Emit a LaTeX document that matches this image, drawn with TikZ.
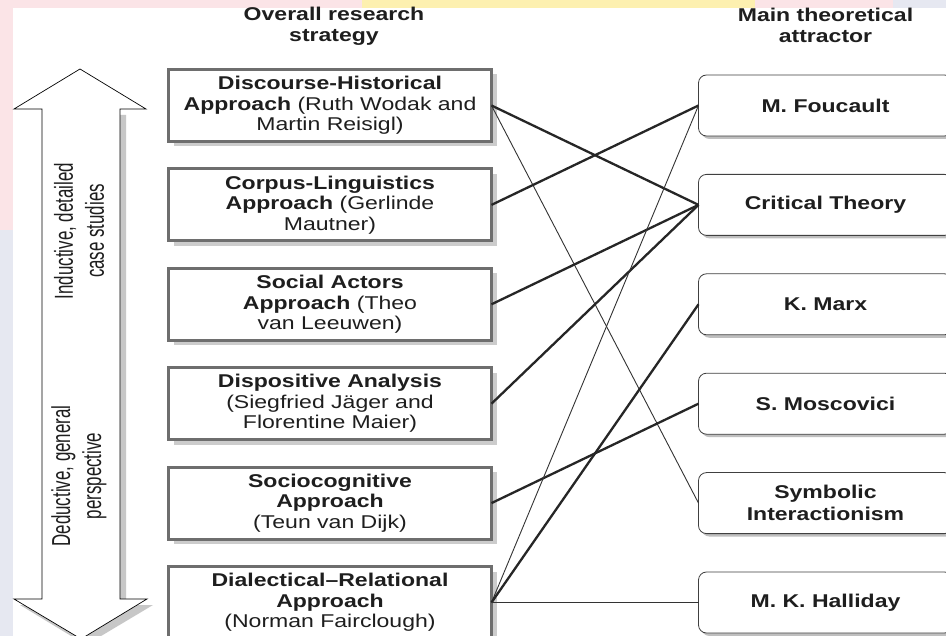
\documentclass[tikz,border=0pt]{standalone}
\usepackage{fontspec}
\newfontfamily\widefont[FakeStretch=1.245]{Liberation Sans}
\newfontfamily\tallfont[FakeStretch=0.65]{Liberation Sans}
\usetikzlibrary{positioning,shadows}
\definecolor{boxgray}{HTML}{6E6E6E}
\definecolor{inkgray}{HTML}{1E1E1E}
\definecolor{wmpink}{HTML}{FBE4E7}
\definecolor{wmyellow}{HTML}{FDF0B0}
\definecolor{wmblue}{HTML}{E6E8F1}

\begin{document}
\begin{tikzpicture}[
  x=1pt, y=1pt,
  node distance=27.4pt and 207pt,
  approach/.style={draw=boxgray, line width=3pt, fill=white, outer sep=0pt,
    minimum width=323pt, minimum height=72pt, align=center, inner sep=2pt,
    text=inkgray, font=\widefont\fontsize{18.5}{20.5}\selectfont,
    drop shadow={shadow xshift=5pt, shadow yshift=-5pt, fill=black!20, opacity=1}},
  attractor/.style={draw=black!75, line width=0.8pt, rounded corners=8pt, fill=white, outer sep=0pt,
    minimum width=254pt, minimum height=61pt, align=center, text=inkgray,
    font=\widefont\bfseries\fontsize{18.5}{22}\selectfont,
    drop shadow={shadow xshift=3pt, shadow yshift=-3pt, fill=black!25, opacity=1}},
  head/.style={align=center, text=inkgray, font=\widefont\bfseries\fontsize{18.5}{21}\selectfont},
  side/.style={rotate=90, align=center, text=inkgray, font=\tallfont\fontsize{26}{31}\selectfont},
  strong/.style={line width=2.3pt, black!85},
  weak/.style={line width=0.9pt, black!80}
]
\useasboundingbox (0,0) rectangle (946,-636);
\fill[white] (0,0) rectangle (946,-636);
% faint strips along the edges
\fill[wmpink] (0,0) rectangle (13,-230);
\fill[wmblue] (0,-230) rectangle (13,-636);
\fill[wmpink] (13,0) rectangle (893,-8);
\fill[wmyellow] (362,0) rectangle (755,-8);
\fill[wmblue] (893,0) rectangle (946,-8);

% double arrow on the left
\fill[black!22] (47,-115) -- (126,-115) -- (126,-605) -- (153,-605) -- (86,-645) -- (20,-605) -- (47,-605) -- cycle;
\draw[fill=white, line width=0.7pt] (42,-109) -- (14,-109) -- (80,-69) -- (146,-109) -- (120,-109)
  -- (120,-599) -- (147,-599) -- (81,-639) -- (14,-599) -- (42,-599) -- cycle;
\node[side] (inductive) at (79,-231) {Inductive, detailed\\case studies};
\node[side] (deductive) at (79,-476) {Deductive, general\\perspective};

% research strategies
\node[approach] (dha) at (330,-105.5) {\textbf{Discourse-Historical}\\\textbf{Approach} (Ruth Wodak and\\Martin Reisigl)};
\node[approach, below=of dha] (corpus) {\textbf{Corpus-Linguistics}\\\textbf{Approach} (Gerlinde\\Mautner)};
\node[approach, below=of corpus] (actors) {\textbf{Social Actors}\\\textbf{Approach} (Theo\\van Leeuwen)};
\node[approach, below=of actors] (dispositive) {\textbf{Dispositive Analysis}\\(Siegfried Jäger and\\Florentine Maier)};
\node[approach, below=of dispositive] (sociocog) {\textbf{Sociocognitive}\\\textbf{Approach}\\(Teun van Dijk)};
\node[approach, below=of sociocog] (dra) {\textbf{Dialectical–Relational}\\\textbf{Approach}\\(Norman Fairclough)};

% theoretical attractors
\node[attractor, right=of dha] (foucault) {M. Foucault};
\node[attractor, right=of corpus] (critical) {Critical Theory};
\node[attractor, right=of actors] (marx) {K. Marx};
\node[attractor, right=of dispositive] (moscovici) {S. Moscovici};
\node[attractor, right=of sociocog] (symbolic) {Symbolic\\Interactionism};
\node[attractor, right=of dra] (halliday) {M. K. Halliday};

\node[head, above=21pt of dha, xshift=4pt] (strategy) {Overall research\\strategy};
\node[head, above=29pt of foucault] (attractor) {Main theoretical\\attractor};

\draw[strong] (dha.east) -- (critical.west);
\draw[weak] (dha.east) -- (symbolic.west);
\draw[strong] (corpus.east) -- (foucault.west);
\draw[strong] (actors.east) -- (critical.west);
\draw[strong] (dispositive.east) -- (critical.west);
\draw[strong] (sociocog.east) -- (moscovici.west);
\draw[weak] (dra.east) -- (foucault.west);
\draw[strong] (dra.east) -- (marx.west);
\draw[weak] (dra.east) -- (halliday.west);
\end{tikzpicture}
\end{document}
